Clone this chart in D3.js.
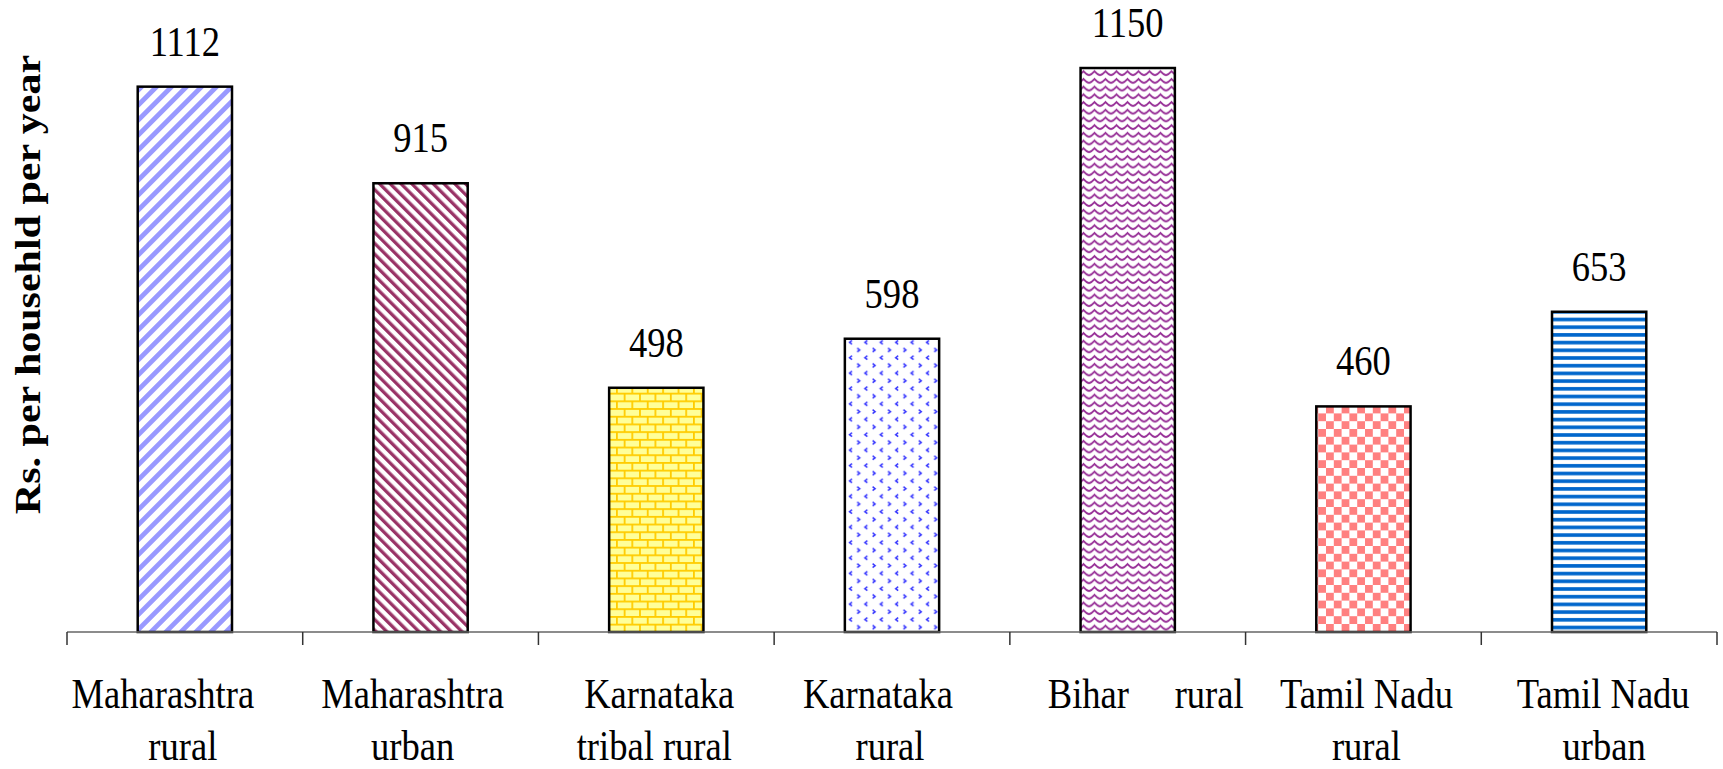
<!DOCTYPE html>
<html>
<head>
<meta charset="utf-8">
<script src="https://cdn.jsdelivr.net/npm/d3@7"></script>
<style>
  html, body { margin: 0; padding: 0; background: #fff; }
  svg { display: block; }
</style>
</head>
<body>
<svg id="chart" width="1723" height="769"></svg>
<script>
// Annual spending, Rs. per household per year
const categories = [
  "Maharashtra rural", "Maharashtra urban", "Karnataka tribal rural",
  "Karnataka rural", "Bihar rural", "Tamil Nadu rural", "Tamil Nadu urban"
];
const values = [1112, 915, 498, 598, 1150, 460, 653];
// Wrapped category labels, as printed under the axis
const labelLines = [
  ["Maharashtra", "rural"],
  ["Maharashtra", "urban"],
  ["Karnataka", "tribal rural"],
  ["Karnataka", "rural"],
  ["Bihar     rural"],
  ["Tamil Nadu", "rural"],
  ["Tamil Nadu", "urban"]
];
const yTitle = "Rs. per househld per year";

// ---- layout ----
const plotLeft = 67, plotRight = 1717, plotBase = 632, plotTop = 43.5;
const labelShift = [[-22, -2], [-8, -8], [3, -2], [-14, -2], [18], [3, 3], [4, 5]];
const squeeze = 0.87;   // condensed serif lettering
const serif = '"Liberation Serif"';

const svg = d3.select("#chart");
const defs = svg.append("defs");

// ---- fill patterns, one per bar ----
function stripePattern(id, period, width, color, angle) {
  const p = defs.append("pattern")
    .attr("id", id).attr("patternUnits", "userSpaceOnUse")
    .attr("width", period).attr("height", period)
    .attr("patternTransform", `rotate(${angle})`);
  p.append("rect").attr("width", period).attr("height", period).attr("fill", "#fff");
  p.append("rect").attr("width", width).attr("height", period).attr("fill", color);
  return p;
}
stripePattern("pUp", 10.6, 4.8, "#9999FF", 45);
stripePattern("pDown", 7.6, 3.3, "#993366", -45);

// brick
{
  const u = 7.7;
  const p = defs.append("pattern").attr("id", "pBrick").attr("patternUnits", "userSpaceOnUse")
    .attr("width", 2 * u).attr("height", 2 * u);
  p.append("rect").attr("width", 2 * u).attr("height", 2 * u).attr("fill", "#FFFF99");
  const m = "#FFCC00";
  p.append("rect").attr("x", 0).attr("y", 0).attr("width", 2 * u).attr("height", 1.8).attr("fill", m);
  p.append("rect").attr("x", 0).attr("y", u).attr("width", 2 * u).attr("height", 1.8).attr("fill", m);
  p.append("rect").attr("x", 0).attr("y", 0).attr("width", 1.8).attr("height", u).attr("fill", m);
  p.append("rect").attr("x", u).attr("y", u).attr("width", 1.8).attr("height", u).attr("fill", m);
}

// small chevrons
{
  const u = 7.7;
  const p = defs.append("pattern").attr("id", "pChev").attr("patternUnits", "userSpaceOnUse")
    .attr("width", 2 * u).attr("height", 2 * u);
  p.append("rect").attr("width", 2 * u).attr("height", 2 * u).attr("fill", "#fff");
  p.append("path").attr("d", "M5,1.5 L2.5,3.5 L5,5.5")
    .attr("fill", "none").attr("stroke", "#3333FF").attr("stroke-width", 1.5);
  p.append("path").attr("d", `M${u + 2.5},${u + 1.5} L${u + 5},${u + 3.5} L${u + 2.5},${u + 5.5}`)
    .attr("fill", "none").attr("stroke", "#3333FF").attr("stroke-width", 1.5);
}

// wave
{
  const w = 11, h = 7.7;
  const p = defs.append("pattern").attr("id", "pWave").attr("patternUnits", "userSpaceOnUse")
    .attr("width", w).attr("height", h);
  p.append("rect").attr("width", w).attr("height", h).attr("fill", "#fff");
  p.append("path").attr("d", `M0,6 Q${w / 4},5 ${w / 2},2 Q${3 * w / 4},5 ${w},6`)
    .attr("fill", "none").attr("stroke", "#993399").attr("stroke-width", 2);
}

// checkerboard
{
  const s = 7.8;
  const p = defs.append("pattern").attr("id", "pCheck").attr("patternUnits", "userSpaceOnUse")
    .attr("width", 2 * s).attr("height", 2 * s);
  p.append("rect").attr("width", 2 * s).attr("height", 2 * s).attr("fill", "#fff");
  p.append("rect").attr("x", 0).attr("y", 0).attr("width", s).attr("height", s).attr("fill", "#FF8080");
  p.append("rect").attr("x", s).attr("y", s).attr("width", s).attr("height", s).attr("fill", "#FF8080");
}

// horizontal stripes
{
  const h = 7.7;
  const p = defs.append("pattern").attr("id", "pHoriz").attr("patternUnits", "userSpaceOnUse")
    .attr("width", 10).attr("height", h);
  p.append("rect").attr("width", 10).attr("height", h).attr("fill", "#fff");
  p.append("rect").attr("y", 2).attr("width", 10).attr("height", 3.6).attr("fill", "#0066CC");
}

const fills = ["url(#pUp)", "url(#pDown)", "url(#pBrick)", "url(#pChev)",
               "url(#pWave)", "url(#pCheck)", "url(#pHoriz)"];

// ---- scales ----
const x = d3.scaleBand().domain(categories).range([plotLeft, plotRight])
  .paddingInner(0.6).paddingOuter(0.3);
const y = d3.scaleLinear().domain([0, 1200]).range([plotBase, plotTop]);
const step = x.step();

// ---- bars ----
svg.append("g").selectAll("rect")
  .data(categories)
  .join("rect")
  .attr("x", d => x(d))
  .attr("y", (d, i) => y(values[i]))
  .attr("width", x.bandwidth())
  .attr("height", (d, i) => y(0) - y(values[i]))
  .attr("fill", (d, i) => fills[i])
  .attr("stroke", "#000")
  .attr("stroke-width", 2.5);

// ---- value labels ----
svg.append("g").selectAll("text")
  .data(categories)
  .join("text")
  .attr("transform", (d, i) =>
    `translate(${x(d) + x.bandwidth() / 2},${y(values[i]) - 31}) scale(${squeeze},1)`)
  .attr("text-anchor", "middle")
  .style("font-family", serif)
  .style("font-size", "42px")
  .attr("fill", "#000")
  .text((d, i) => values[i]);

// ---- category axis: baseline with ticks between categories ----
const axis = svg.append("g");
axis.append("line")
  .attr("x1", plotLeft).attr("x2", plotRight).attr("y1", plotBase).attr("y2", plotBase)
  .attr("stroke", "#666").attr("stroke-width", 1.5);
const boundaries = d3.range(categories.length + 1).map(i => plotLeft + i * step);
axis.selectAll("line.tick")
  .data(boundaries)
  .join("line")
  .attr("class", "tick")
  .attr("x1", d => d).attr("x2", d => d)
  .attr("y1", plotBase).attr("y2", plotBase + 13)
  .attr("stroke", "#333").attr("stroke-width", 1.5);

// ---- category labels ----
const lineBase = [708, 760];
const lab = svg.append("g");
categories.forEach((c, i) => {
  const cx = x(c) + x.bandwidth() / 2;
  labelLines[i].forEach((t, j) => {
    lab.append("text")
      .attr("transform", `translate(${cx + labelShift[i][j]},${lineBase[j]}) scale(${squeeze},1)`)
      .attr("text-anchor", "middle")
      .style("font-family", serif)
      .style("font-size", "42px")
      .style("white-space", "pre")
      .attr("fill", "#000")
      .text(t);
  });
});

// ---- y title ----
svg.append("text")
  .attr("transform", `translate(40,${(55 + 514) / 2}) scale(${squeeze},1) rotate(-90)`)
  .attr("text-anchor", "middle")
  .style("font-family", serif)
  .style("font-size", "42px")
  .style("font-weight", "bold")
  .attr("fill", "#000")
  .text(yTitle);
</script>
</body>
</html>
